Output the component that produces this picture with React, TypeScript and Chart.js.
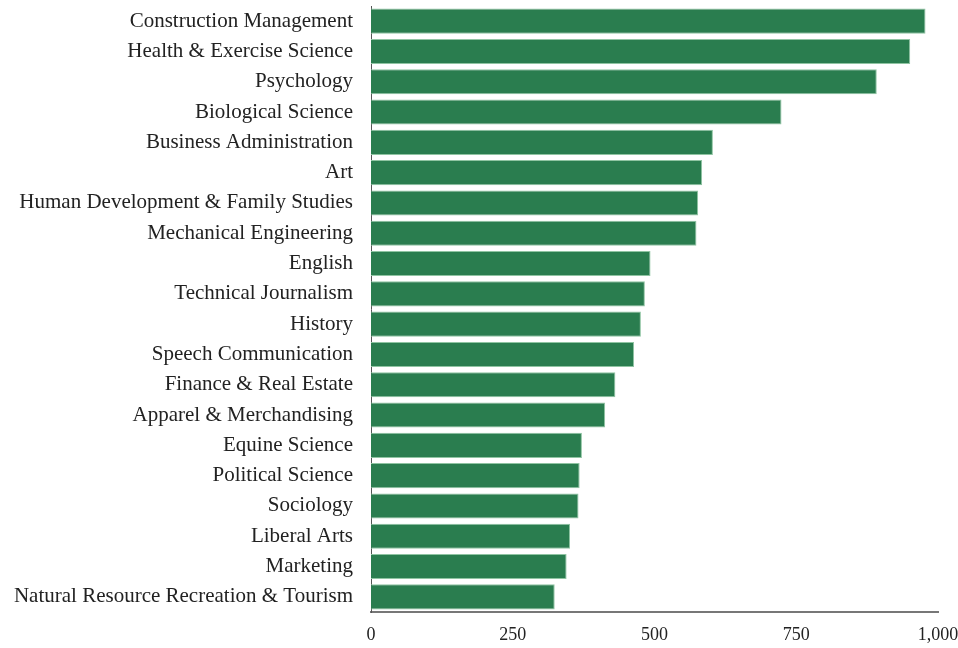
import React, { useEffect, useRef } from "react";
import { Chart, registerables } from "chart.js";

Chart.register(...registerables);

const categories = [
  "Construction Management",
  "Health & Exercise Science",
  "Psychology",
  "Biological Science",
  "Business Administration",
  "Art",
  "Human Development & Family Studies",
  "Mechanical Engineering",
  "English",
  "Technical Journalism",
  "History",
  "Speech Communication",
  "Finance & Real Estate",
  "Apparel & Merchandising",
  "Equine Science",
  "Political Science",
  "Sociology",
  "Liberal Arts",
  "Marketing",
  "Natural Resource Recreation & Tourism",
];

const values = [
  978, 951, 892, 724, 603, 584, 577, 574, 493, 483, 476, 464, 431, 413, 372,
  368, 366, 351, 345, 324,
];

const xTicks = [0, 250, 500, 750, 1000];

export default function App() {
  const ref = useRef<HTMLCanvasElement | null>(null);

  useEffect(() => {
    if (!ref.current) return;
    const fontFamily = '"Liberation Serif", "Times New Roman", serif';
    const chart = new Chart(ref.current, {
      type: "bar",
      data: {
        labels: categories,
        datasets: [
          {
            data: values,
            backgroundColor: "#2a7d4f",
            borderColor: "#8fc4a2",
            borderWidth: 1,
            borderSkipped: "left",
            categoryPercentage: 1,
            barPercentage: 0.83,
          },
        ],
      },
      options: {
        indexAxis: "y",
        animation: false,
        responsive: false,
        maintainAspectRatio: false,
        layout: { padding: { top: 6, right: 20, left: 0, bottom: 0 } },
        plugins: {
          legend: { display: false },
          tooltip: { enabled: false },
        },
        scales: {
          x: {
            min: 0,
            max: 1000,
            afterBuildTicks: (axis: any) => {
              axis.ticks = xTicks.map((v) => ({ value: v }));
            },
            afterFit: (axis: any) => {
              axis.height = 36;
              axis.paddingLeft = 0;
              axis.paddingRight = 0;
            },
            grid: { display: false, drawTicks: false },
            border: { display: true, color: "#777777", width: 2 },
            ticks: {
              padding: 12,
              color: "#222222",
              font: { family: fontFamily, size: 18 },
              callback: (v: any) => Number(v).toLocaleString("en-US"),
            },
          },
          y: {
            afterFit: (axis: any) => {
              axis.width = 371;
              axis.paddingTop = 0;
              axis.paddingBottom = 0;
            },
            grid: { display: false, drawTicks: false },
            border: { display: true, color: "#555555", width: 1 },
            ticks: {
              padding: 18,
              color: "#222222",
              autoSkip: false,
              font: { family: fontFamily, size: 21 },
            },
          },
        },
      },
    });
    return () => chart.destroy();
  }, []);

  return (
    <div style={{ position: "fixed", left: 0, top: 0, width: 958, height: 648, background: "#fff" }}>
      <canvas ref={ref} width={958} height={648} style={{ width: 958, height: 648 }} />
    </div>
  );
}
